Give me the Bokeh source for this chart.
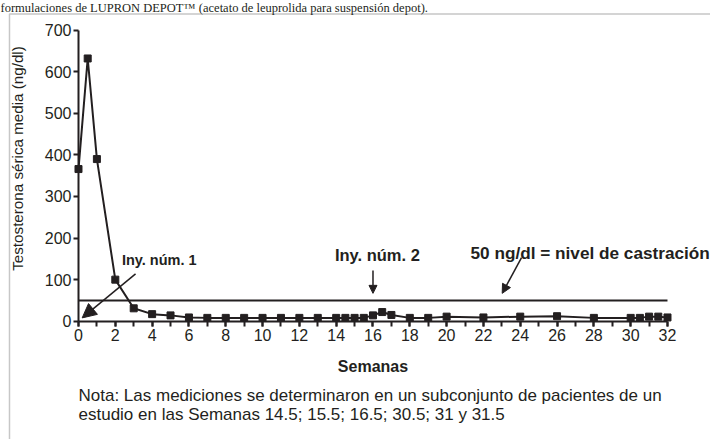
from bokeh.plotting import figure
from bokeh.models import Range1d, SingleIntervalTicker, Label, Arrow, NormalHead, BoxAnnotation
from bokeh.embed import file_html
from bokeh.resources import INLINE

# ---- data ----
weeks = [0, 0.5, 1, 2, 3, 4, 5, 6, 7, 8, 9, 10, 11, 12, 13, 14, 14.5, 15, 15.5,
         16, 16.5, 17, 18, 19, 20, 22, 24, 26, 28, 30, 30.5, 31, 31.5, 32]
testosterone = [366, 632, 390, 100, 31, 17, 14, 9, 8, 8, 8, 8, 8, 8, 8, 8, 8, 8, 8,
                14, 22, 15, 8, 8, 11, 9, 11, 12, 8, 8, 8, 11, 11, 9]
castration_level = 50
castration_weeks = [0, 32]
injection_weeks = [0, 16]

heading = "formulaciones de LUPRON DEPOT\u2122 (acetato de leuprolida para suspensión depot)."
x_label = "Semanas"
y_label = "Testosterona sérica media (ng/dl)"
inj1_text = "Iny. núm. 1"
inj2_text = "Iny. núm. 2"
castr_text = "50 ng/dl = nivel de castración"
note_lines = ["Nota: Las mediciones se determinaron en un subconjunto de pacientes de un",
              "estudio en las Semanas 14.5; 15.5; 16.5; 30.5; 31 y 31.5"]

INK = "#231f20"
FONT = "Liberation Sans"

# frame covers the whole canvas; axes are fixed at the data origin
p = figure(width=710, height=439, output_backend="svg", toolbar_location=None,
           x_range=Range1d(-4.2377, 34.337), y_range=Range1d(-284.57, 771.45),
           min_border=0, min_border_left=0, min_border_right=0,
           min_border_top=0, min_border_bottom=0)
p.outline_line_color = None
p.grid.visible = False
p.background_fill_color = "white"
p.border_fill_color = "white"

# x axis
xa = p.xaxis[0]
xa.fixed_location = 0
xa.ticker = SingleIntervalTicker(interval=2, num_minor_ticks=2)
xa.bounds = (0, 32)
xa.axis_line_width = 2
xa.axis_line_color = INK
xa.major_tick_in = 0
xa.major_tick_out = 5
xa.minor_tick_in = 0
xa.minor_tick_out = 5
xa.major_tick_line_width = 2
xa.minor_tick_line_width = 2
xa.major_tick_line_color = INK
xa.minor_tick_line_color = INK
xa.major_label_text_font = FONT
xa.major_label_text_font_size = "16px"
xa.major_label_text_color = INK
xa.major_label_standoff = 3
xa.axis_label = x_label
xa.axis_label_text_font = FONT
xa.axis_label_text_font_style = "bold"
xa.axis_label_text_font_size = "16px"
xa.axis_label_text_color = INK
xa.axis_label_standoff = 13

# y axis
ya = p.yaxis[0]
ya.fixed_location = 0
ya.ticker = SingleIntervalTicker(interval=100, num_minor_ticks=0)
ya.bounds = (0, 700)
ya.axis_line_width = 2
ya.axis_line_color = INK
ya.major_tick_in = 0
ya.major_tick_out = 5
ya.major_tick_line_width = 2
ya.major_tick_line_color = INK
ya.minor_tick_line_color = None
ya.major_label_text_font = FONT
ya.major_label_text_font_size = "16px"
ya.major_label_text_color = INK
ya.major_label_standoff = 2

# y title
p.add_layout(Label(x=-3.314, y=391.4, text=y_label, angle=1.5707963, text_align="center",
                   text_baseline="middle", text_font=FONT, text_font_size="15.2px",
                   text_color=INK))

# castration line
p.line(castration_weeks, [castration_level] * len(castration_weeks), line_color=INK, line_width=2)

# data
p.line(weeks, testosterone, line_color=INK, line_width=2)
p.scatter(weeks, testosterone, marker="square", size=7, fill_color=INK, line_color=INK)

# annotations
p.add_layout(Label(x=2.36, y=148, text=inj1_text, text_align="left", text_baseline="middle",
                   text_font=FONT, text_font_style="bold", text_font_size="14.5px", text_color=INK))
p.add_layout(Label(x=injection_weeks[1] + 0.24, y=160, text=inj2_text, text_align="center",
                   text_baseline="middle", text_font=FONT, text_font_style="bold",
                   text_font_size="16.5px", text_color=INK))
p.add_layout(Label(x=21.3, y=163, text=castr_text, text_align="left", text_baseline="middle",
                   text_font=FONT, text_font_style="bold", text_font_size="17.2px", text_color=INK))

p.add_layout(Arrow(end=NormalHead(size=14, fill_color=INK, line_color=INK),
                   x_start=3.1, y_start=114, x_end=injection_weeks[0] + 0.2, y_end=8,
                   line_color=INK, line_width=1.5))
p.add_layout(Arrow(end=NormalHead(size=8, fill_color=INK, line_color=INK),
                   x_start=injection_weeks[1], y_start=122, x_end=injection_weeks[1], y_end=67,
                   line_color=INK, line_width=1.5))
p.add_layout(Arrow(end=NormalHead(size=9, fill_color=INK, line_color=INK),
                   x_start=24.07, y_start=153, x_end=23.02, y_end=67,
                   line_color=INK, line_width=1.5))

# note
p.add_layout(Label(x=0, y=-178.7, text=note_lines[0], text_align="left", text_baseline="middle",
                   text_font=FONT, text_font_size="17px", text_color=INK))
p.add_layout(Label(x=0, y=-224.4, text=note_lines[1], text_align="left", text_baseline="middle",
                   text_font=FONT, text_font_size="17px", text_color=INK))

# heading line of the surrounding document, kept fully inside the page
p.add_layout(Label(x=-4.2377, y=753.4, text=heading, text_align="left", text_baseline="middle",
                   text_font="Liberation Serif", text_font_size="12.5px", text_color=INK))

# box around the figure (left and top edges visible)
p.add_layout(BoxAnnotation(left=-3.749, top=739.0, right=40, bottom=-400,
                           fill_alpha=0, line_color="#444444", line_width=1.5))

open("out.html", "w").write(file_html(p, INLINE))
